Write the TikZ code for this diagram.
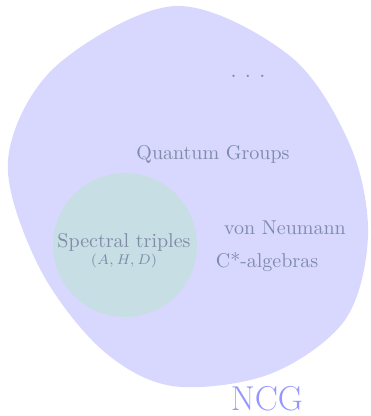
\documentclass[tikz,border=0pt]{standalone}
\usepackage{amsmath}
\usepackage{tikz}
\usetikzlibrary{positioning}

\definecolor{blobfill}{RGB}{216,216,255}
\definecolor{triplefill}{RGB}{199,222,228}
\definecolor{labelgray}{RGB}{128,140,168}
\definecolor{ncgblue}{RGB}{150,150,255}

\tikzset{
  topic/.style={text=labelgray, inner sep=1pt},
}

\begin{document}
\begin{tikzpicture}[x=0.5pt, y=-0.5pt]
    \useasboundingbox (0,0) rectangle (370,416);

    % the NCG region
    \fill[blobfill] plot[smooth cycle, tension=0.55] coordinates {
      (175,6) (290,56) (350,145) (368,235) (345,320) (270,374)
      (172,386) (100,348) (38,265) (8,160) (55,67)
    };
    % spectral triples
    \fill[triplefill] (125,245) circle (72);

    \node[topic] (dots) at (248,76) {\large .\ .\ .};
    \node[topic] (qg) at (213,154) {Quantum Groups};
    \node[topic] (st) at (124,242) {Spectral triples};
    \node[topic, below=-1pt of st, font=\scriptsize] (ahd) {$(A,H,D)$};
    \node[topic] (vn) at (285,228) {von Neumann};
    \node[topic] (cs) at (267,262) {C*-algebras};
    \node[text=ncgblue, font=\LARGE] (ncg) at (267,399) {NCG};
\end{tikzpicture}
\end{document}
